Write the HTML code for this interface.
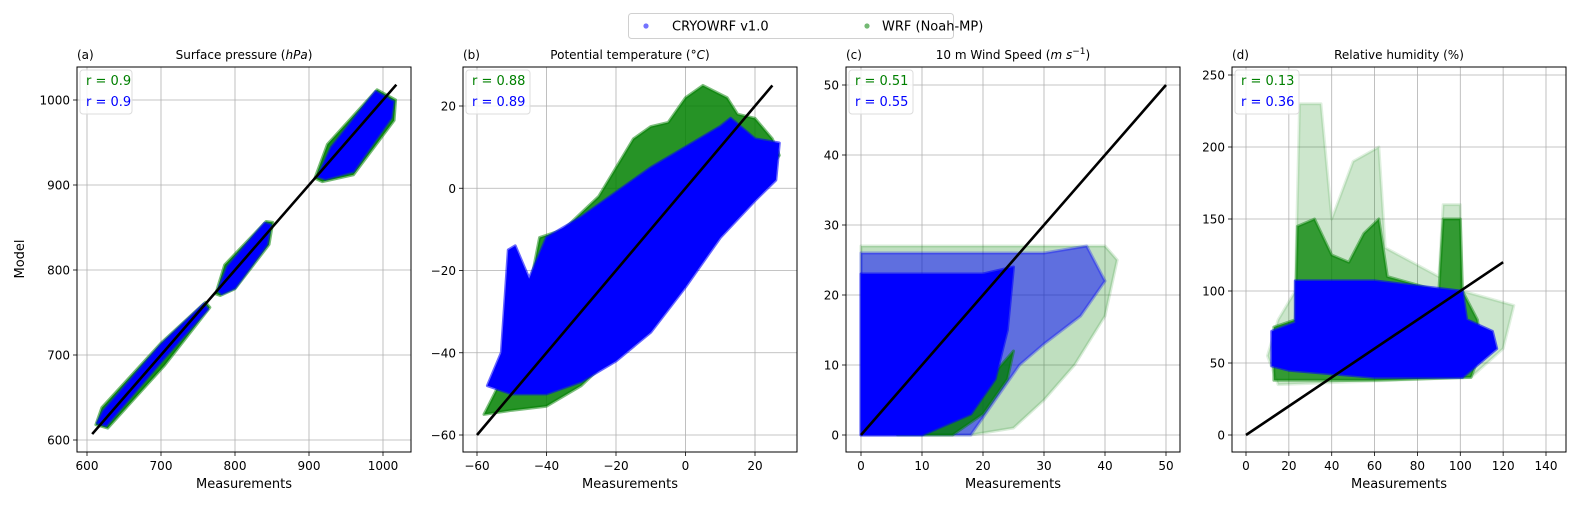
<!DOCTYPE html>
<html><head><meta charset="utf-8"><style>
body{margin:0;background:#fff;}
svg{display:block;font-family:"DejaVu Sans","Liberation Sans",sans-serif;}
</style></head><body>
<svg id="fig" width="1581" height="505" viewBox="0 0 1581 505">
<g>
<rect x="628.5" y="13.5" width="325" height="25" rx="3" fill="#fff" stroke="#d0d0d0"/>
<circle cx="646" cy="26" r="2.6" fill="blue" fill-opacity="0.55"/>
<text x="672" y="30.5" font-size="13">CRYOWRF v1.0</text>
<circle cx="867" cy="26" r="2.6" fill="green" fill-opacity="0.55"/>
<text x="882" y="30.5" font-size="13">WRF (Noah-MP)</text>
</g>
<text transform="translate(24,259) rotate(-90)" text-anchor="middle" font-size="13">Model</text>
</svg>
<script>
// Panel a: surface pressure
const aXTicks=[600,700,800,900,1000];
const aYTicks=[600,700,800,900,1000];
const aR=["r = 0.9","r = 0.9"];
const aGreenHullsX=[[612,620,700,760,766,705,628],[774,786,842,851,846,800,780],[908,925,992,1017,1015,960,918]];
const aGreenHullsY=[[618,638,714,762,756,688,614],[772,806,857,856,830,778,770],[908,948,1012,1000,976,912,904]];
const aBlueHullsX=[[614,622,700,758,763,700,626],[777,790,840,848,843,800,782],[912,930,990,1014,1011,960,922]];
const aBlueHullsY=[[620,634,712,760,754,692,617],[776,804,855,853,830,779,772],[910,944,1010,998,979,916,907]];
const aLine=[607,1018];
// Panel b: potential temperature
const bXTicks=[-60,-40,-20,0,20];
const bYTicks=[-60,-40,-20,0,20];
const bR=["r = 0.88","r = 0.89"];
const bGreenX=[-58,-55,-48,-42,-35,-25,-15,-10,-5,0,5,12,15,20,25,27,20,10,0,-10,-20,-30,-40,-50];
const bGreenY=[-55,-50,-38,-12,-10,-2,12,15,16,22,25,22,18,17,12,8,0,-10,-22,-32,-40,-48,-53,-54];
const bBlueX=[-57,-53,-51,-49,-45,-40,-30,-20,-10,0,10,13,20,27,26,20,10,0,-10,-20,-30,-40,-50];
const bBlueY=[-48,-40,-15,-14,-22,-12,-7,-1,5,10,15,17,12,11,2,-3,-12,-24,-35,-42,-47,-50,-50];
const bLine=[-60,25];
// Panel c: wind speed
const cXTicks=[0,10,20,30,40,50];
const cYTicks=[0,10,20,30,40,50];
const cR=["r = 0.51","r = 0.55"];
const cGreenX=[0,0,20,30,40,42,40,35,30,25,18];
const cGreenY=[0,27,27,27,27,25,17,10,5,1,0];
const cBlueX=[0,0,20,30,37,40,36,30,26,22,18];
const cBlueY=[0,26,26,26,27,22,17,13,10,5,0];
const cGreenCoreX=[6,15,20,24,25,22,15,10];
const cGreenCoreY=[0,0,3,8,12,9,3,1];
const cBlueCoreX=[0,0,20,25,24,22,18,10];
const cBlueCoreY=[0,23,23,24,15,8,3,0];
const cLine=[0,50];
// Panel d: relative humidity
const dXTicks=[0,20,40,60,80,100,120,140];
const dYTicks=[0,50,100,150,200,250];
const dR=["r = 0.13","r = 0.36"];
const dGreenX=[15,23,25,35,40,50,62,65,90,92,100,101,125,120,105,15,10];
const dGreenY=[80,100,230,230,150,190,200,130,110,160,160,100,90,60,40,35,55];
const dGreenCoreX=[13,13,23,24,32,40,48,55,62,66,90,92,100,101,108,110,105,60,20];
const dGreenCoreY=[38,75,80,145,150,125,120,140,150,110,100,150,150,100,80,60,40,38,38];
const dBlueX=[12,12,23,23,60,100,101,103,115,117,105,101,60,20];
const dBlueY=[48,72,78,107,107,100,100,80,72,60,45,40,40,45];
const dLine=[0,120];

const svg=document.getElementById('fig');
const NS='http://www.w3.org/2000/svg';
function mk(tag,attrs,parent){const e=document.createElementNS(NS,tag);for(const k in attrs)e.setAttribute(k,attrs[k]);parent.appendChild(e);return e;}
function scale(d0,d1,p0,p1){return v=>p0+(v-d0)*(p1-p0)/(d1-d0);}

function panel(o){
  const g=mk('g',{},svg);
  
  
  const X=scale(o.xd[0],o.xd[1],o.xp[0],o.xp[1]);
  const Y=scale(o.yd[0],o.yd[1],o.yp[0],o.yp[1]);
  const clip=mk('clipPath',{id:'clip'+o.id},g);
  mk('rect',{x:o.L,y:67,width:o.R-o.L,height:385},clip);
  const grid=mk('g',{},g);
  
  
  o.xt.forEach(t=>{const x=X(t);mk('line',{x1:x,x2:x,y1:67,y2:452,stroke:'#b0b0b0','stroke-width':0.8},grid);
    mk('line',{x1:x,x2:x,y1:452,y2:456,stroke:'#000','stroke-width':0.8},g);
    const tl=mk('text',{x:x,y:470,'text-anchor':'middle','font-size':12},g);tl.textContent=String(t).replace('-','\u2212');
    
    });
  o.yt.forEach(t=>{const y=Y(t);mk('line',{x1:o.L,x2:o.R,y1:y,y2:y,stroke:'#b0b0b0','stroke-width':0.8},grid);
    mk('line',{x1:o.L-4,x2:o.L,y1:y,y2:y,stroke:'#000','stroke-width':0.8},g);
    const tl=mk('text',{x:o.L-7,y:y+4.5,'text-anchor':'end','font-size':12},g);tl.textContent=String(t).replace('-','\u2212');
    
    });
  const data=mk('g',{'clip-path':'url(#clip'+o.id+')'},g);
  o.polys.forEach(p=>{
    const pts=p.xs.map((v,i)=>X(v)+','+Y(p.ys[i])).join(' ');
    const pg=mk('polygon',{points:pts,fill:p.c,'fill-opacity':p.op,stroke:p.c,'stroke-opacity':p.op*0.6,'stroke-width':3,'stroke-linejoin':'round'},data);
    
    
  });
  const ln=mk('line',{x1:X(o.line[0]),y1:Y(o.line[0]),x2:X(o.line[1]),y2:Y(o.line[1]),stroke:'#000','stroke-width':2.6},data);
  
  
  const fr=mk('rect',{x:o.L,y:67,width:o.R-o.L,height:385,fill:'none',stroke:'#000','stroke-width':1},g);
  
  
  const rb=mk('rect',{x:o.L+3,y:70,width:o.rw,height:44,rx:3,fill:'#fff','fill-opacity':0.85,stroke:'#dcdcdc'},g);
  
  
  const r1=mk('text',{x:o.L+9,y:85,'font-size':13,fill:'green'},g);r1.textContent=o.r[0];
  
  
  const r2=mk('text',{x:o.L+9,y:106,'font-size':13,fill:'blue'},g);r2.textContent=o.r[1];
  
  
  const lab=mk('text',{x:o.L,y:59,'font-size':12},g);lab.textContent='('+o.id+')';
  
  
  const ti=mk('text',{x:(o.L+o.R)/2,y:59,'text-anchor':'middle','font-size':12},g);ti.innerHTML=o.title;
  
  
  const xl=mk('text',{x:(o.L+o.R)/2,y:488,'text-anchor':'middle','font-size':13},g);xl.textContent='Measurements';
  
  
}
const aPolys=[];
aGreenHullsX.forEach((xs,i)=>aPolys.push({xs:xs,ys:aGreenHullsY[i],c:'green',op:0.9,name:'wrf-cluster'}));
aBlueHullsX.forEach((xs,i)=>aPolys.push({xs:xs,ys:aBlueHullsY[i],c:'blue',op:1,name:'cryowrf-cluster'}));
panel({id:'a',L:77,R:411,xd:[600,1000],xp:[87,383],yd:[600,1000],yp:[440,100],xt:aXTicks,yt:aYTicks,r:aR,rw:52,line:aLine,
  title:'Surface pressure (<tspan font-style="italic">hPa</tspan>)',polys:aPolys});
panel({id:'b',L:463,R:797,xd:[-60,20],xp:[477,755],yd:[-60,20],yp:[435,106],xt:bXTicks,yt:bYTicks,r:bR,rw:64,line:bLine,
  title:'Potential temperature (°<tspan font-style="italic">C</tspan>)',
  polys:[{xs:bGreenX,ys:bGreenY,c:'green',op:0.85,name:'wrf-scatter'},{xs:bBlueX,ys:bBlueY,c:'blue',op:1,name:'cryowrf-scatter'}]});
panel({id:'c',L:846,R:1180,xd:[0,50],xp:[861,1166],yd:[0,50],yp:[435,85],xt:cXTicks,yt:cYTicks,r:cR,rw:64,line:cLine,
  title:'10 m Wind Speed (<tspan font-style="italic">m s</tspan><tspan dy="-5" font-size="9">−1</tspan><tspan dy="5">)</tspan>',
  polys:[{xs:cGreenX,ys:cGreenY,c:'green',op:0.25,name:'wrf-sparse'},{xs:cBlueX,ys:cBlueY,c:'blue',op:0.5,name:'cryowrf-sparse'},
         {xs:cGreenCoreX,ys:cGreenCoreY,c:'green',op:0.8,name:'wrf-core'},{xs:cBlueCoreX,ys:cBlueCoreY,c:'blue',op:1,name:'cryowrf-core'}]});
panel({id:'d',L:1232,R:1566,xd:[0,140],xp:[1246,1546],yd:[0,250],yp:[435,75],xt:dXTicks,yt:dYTicks,r:dR,rw:64,line:dLine,
  title:'Relative humidity (%)',
  polys:[{xs:dGreenX,ys:dGreenY,c:'green',op:0.2,name:'wrf-sparse'},{xs:dGreenCoreX,ys:dGreenCoreY,c:'green',op:0.75,name:'wrf-core'},
         {xs:dBlueX,ys:dBlueY,c:'blue',op:1,name:'cryowrf-core'}]});
</script>
</body></html>
